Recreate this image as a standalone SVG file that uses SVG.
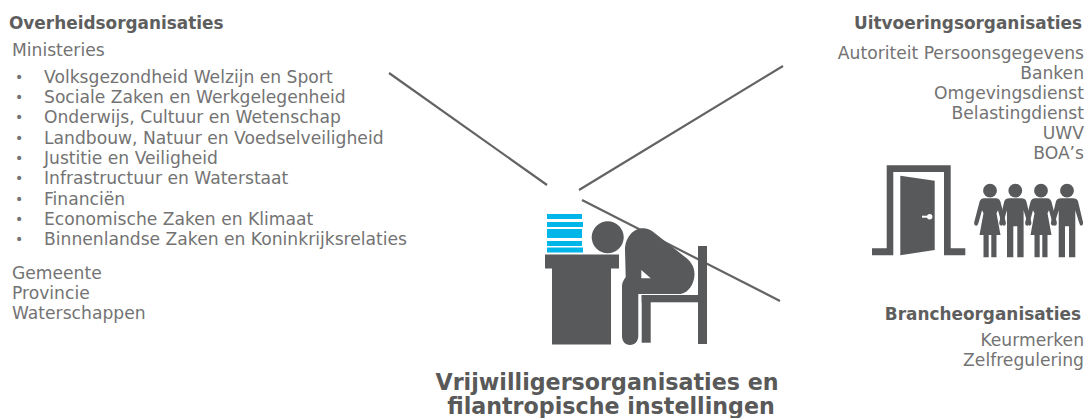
<svg xmlns="http://www.w3.org/2000/svg" width="1087" height="418" viewBox="0 0 1087 418">
<style>
text{font-family:"DejaVu Sans",Verdana,sans-serif;fill:#737373;font-size:17.150px}
.d{font-size:14px}
.h{font-weight:700;fill:#5e5e5e;font-size:16.900px}
.r{text-anchor:end}
.t{font-weight:700;fill:#595959;font-size:22.200px;text-anchor:middle}
.f{fill:#58595b}
.b{fill:#00b5e8}
.c{stroke:#636363;stroke-width:2.200;fill:none}
</style>
<defs>
<g id="woman" class="f">
<circle cx="0" cy="-7.600" r="6.900"/>
<path d="M-6 0H6Q9 0 10.300 3L15.800 24Q16.300 27.500 13.500 27.500Q12.300 27.500 11.300 24L8 12 6.500 15 10.500 36.700H6.500V59H1.300V36.700H-1.300V59H-6.500V36.700H-10.500L-6.500 15-8 12-11.300 24Q-12.300 27.500-13.500 27.500Q-16.300 27.500-15.800 24L-10.300 3Q-9 0-6 0Z"/>
</g>
<g id="man" class="f">
<circle cx="0" cy="-7.600" r="6.900"/>
<path d="M-6 0H6Q10 0 11 3L16 24Q16.500 27.500 14 27.500Q13 27.500 12 24L8.300 12V59H2V28H-2V59H-8.300V12L-12 24Q-13 27.500-14 27.500Q-16.500 27.500-16 24L-11 3Q-10 0-6 0Z"/>
</g>
</defs>
<g id="connectors">
<line class="c" x1="389" y1="73" x2="547" y2="185"/>
<line class="c" x1="783" y1="66" x2="579" y2="190"/>
<line class="c" x1="582" y1="200" x2="780" y2="301"/>
</g>
<g id="overheid">
<text class="h" x="9" y="29">Overheidsorganisaties</text>
<text x="12" y="55.500">Ministeries</text>
<text class="d" x="15" y="82">•</text><text x="44" y="83">Volksgezondheid Welzijn en Sport</text>
<text class="d" x="15" y="102">•</text><text x="44" y="103">Sociale Zaken en Werkgelegenheid</text>
<text class="d" x="15" y="122">•</text><text x="44" y="123">Onderwijs, Cultuur en Wetenschap</text>
<text class="d" x="15" y="142.500">•</text><text x="44" y="143.500">Landbouw, Natuur en Voedselveiligheid</text>
<text class="d" x="15" y="163">•</text><text x="44" y="164">Justitie en Veiligheid</text>
<text class="d" x="15" y="183">•</text><text x="44" y="184">Infrastructuur en Waterstaat</text>
<text class="d" x="15" y="203.500">•</text><text x="44" y="204.500">Financiën</text>
<text class="d" x="15" y="224">•</text><text x="44" y="225">Economische Zaken en Klimaat</text>
<text class="d" x="15" y="244">•</text><text x="44" y="245">Binnenlandse Zaken en Koninkrijksrelaties</text>
<text x="12" y="279">Gemeente</text>
<text x="12" y="299">Provincie</text>
<text x="12" y="319">Waterschappen</text>
</g>
<g id="uitvoering">
<text class="h r" x="1082" y="29">Uitvoeringsorganisaties</text>
<text class="r" x="1084" y="59">Autoriteit Persoonsgegevens</text>
<text class="r" x="1084" y="79">Banken</text>
<text class="r" x="1084" y="99">Omgevingsdienst</text>
<text class="r" x="1084" y="119">Belastingdienst</text>
<text class="r" x="1084" y="139">UWV</text>
<text class="r" x="1084" y="159">BOA’s</text>
</g>
<g id="door">
<path class="f" d="M872 248.300H886.700V165.300H950.700V248.300H965.300V255.300H944V172H893.300V255.300H872Z"/>
<path class="f" d="M900.300 175.700 934.700 180.700V250L900.300 255.300Z"/>
<path d="M922 216.700H929" stroke="#fff" stroke-width="2"/>
<circle cx="929.700" cy="216.700" r="2.700" fill="#fff"/>
</g>
<g id="people">
<use href="#woman" x="990" y="198.300"/>
<use href="#man" x="1015.300" y="198.300"/>
<use href="#woman" x="1041" y="198.300"/>
<use href="#man" x="1067" y="198.300"/>
</g>
<g id="branche">
<text class="h r" x="1081" y="320">Brancheorganisaties</text>
<text class="r" x="1084" y="346">Keurmerken</text>
<text class="r" x="1084" y="366">Zelfregulering</text>
</g>
<g id="worker">
<rect class="b" x="547" y="214" width="35" height="5"/>
<rect class="b" x="547" y="222" width="36" height="5"/>
<rect class="b" x="547" y="229" width="35" height="9"/>
<rect class="b" x="547" y="241" width="35" height="5"/>
<rect class="b" x="547" y="247.500" width="36" height="5"/>
<rect class="f" x="545" y="254.500" width="74" height="14"/>
<rect class="f" x="552" y="268" width="59" height="76.500"/>
<circle class="f" cx="607.700" cy="237.300" r="16"/>
<path class="f" fill-rule="evenodd" d="M625 250C625 238 633 228 643.300 228.300C647 228.300 650 229.500 653 231.700L686.700 258.300C692 263 694.500 268 694.500 274C694.500 284 688 294 679 294H638.300V336C638.300 341 635 345 630 345C625 345 622 341 622 336V286Q622 282 625.700 277ZM641.300 270 650.700 278.300H641.300Z"/>
<rect class="f" x="698" y="246" width="9" height="98"/>
<rect class="f" x="641.700" y="295" width="56.300" height="7.300"/>
<rect class="f" x="641.700" y="295" width="9" height="47.700"/>
</g>
<g id="vrijwilligers">
<text class="t" x="607" y="390">Vrijwilligersorganisaties en</text>
<text class="t" x="611" y="414">filantropische instellingen</text>
</g>
</svg>
